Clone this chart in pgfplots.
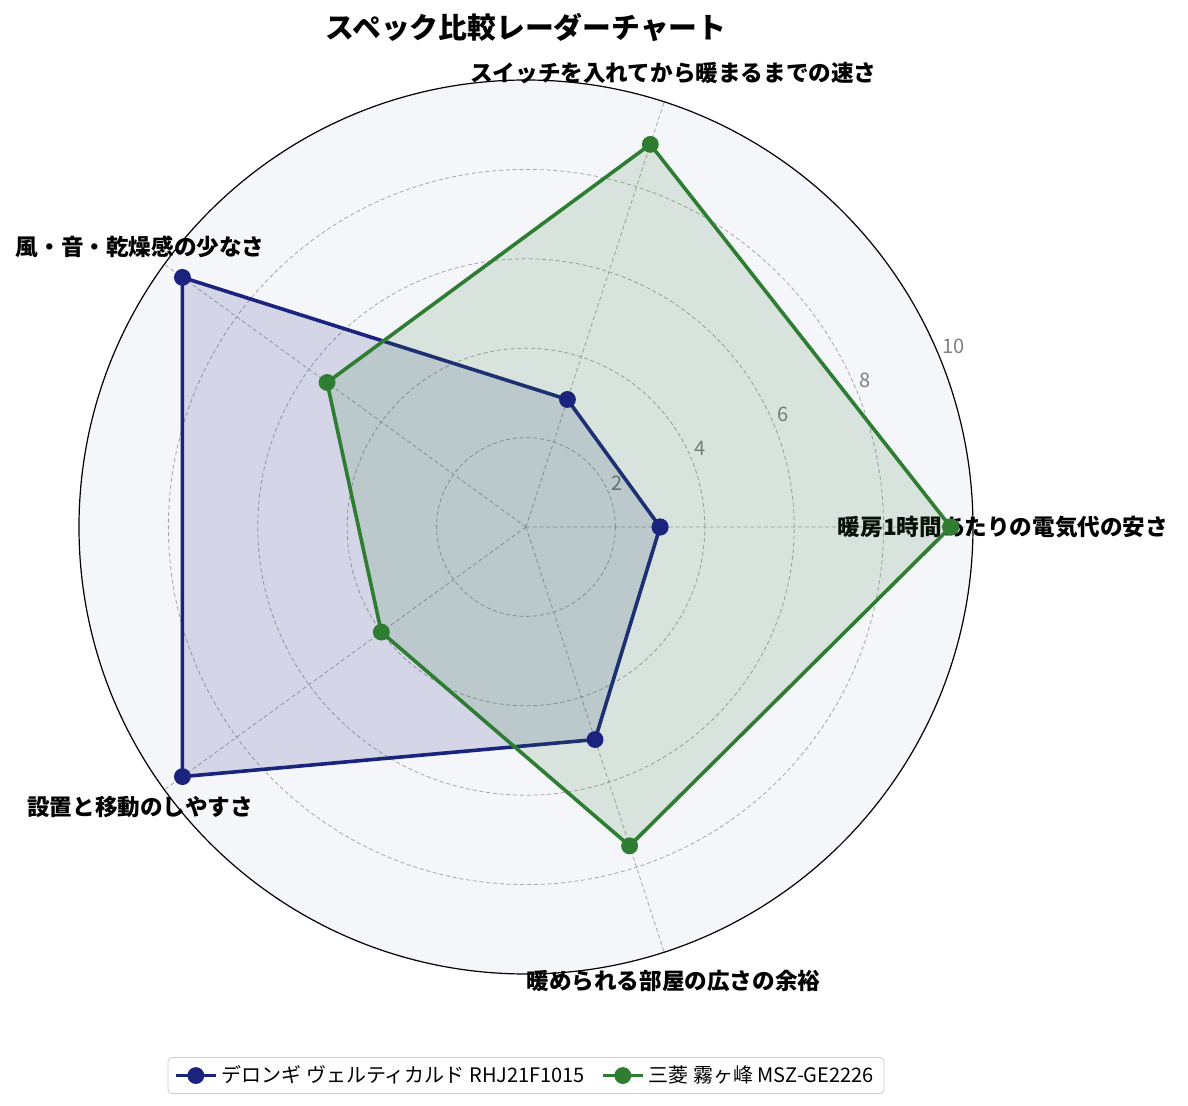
\documentclass[border=0pt]{standalone}
\usepackage{fontspec}
\setmainfont{Noto Sans CJK JP}
\usepackage{pgfplots}
\pgfplotsset{compat=1.18}
\usepgfplotslibrary{polar}

\definecolor{bgcol}{HTML}{F5F6FA}
\definecolor{cdelonghi}{HTML}{1A237E}
\definecolor{cmitsu}{HTML}{2E7D32}

\tikzset{
    lab/.style={font=\bfseries\fontsize{11.3}{13}\selectfont, anchor=center, inner sep=0pt},
    rt/.style={font=\fontsize{10}{12}\selectfont, text=gray, anchor=west, inner sep=0pt, xshift=1.5pt, yshift=5pt},
}

\begin{document}
\begin{tikzpicture}
\path[use as bounding box] (-263pt,-289.5pt) rectangle (331pt,263.5pt);
\begin{polaraxis}[
    at={(0,0)}, anchor=origin,
    width=447pt, height=447pt, scale only axis,
    ymin=0, ymax=10,
    xtick={0,72,144,216,288},
    xticklabels={},
    ytick={2,4,6,8},
    yticklabels={},
    major tick length=0pt,
    grid=major,
    major grid style={gray!70, line width=0.4pt, dash pattern=on 2pt off 1.4pt},
    axis line style={black, line width=0.6pt},
    y axis line style={draw=none},
    axis background/.style={fill=bgcol},
    clip=false,
    legend style={at={(0.5,-0.093)}, anchor=north, legend columns=2,
        draw=gray!40, rounded corners=2pt, font=\fontsize{10}{12}\selectfont,
        /tikz/every even column/.append style={column sep=6pt}},
    legend image code/.code={\draw[#1, mark repeat=2, mark phase=2]
        plot coordinates {(0pt,0pt) (10pt,0pt) (20pt,0pt)};},
]
% category labels
\node[lab] at (axis cs:0,10.67) {暖房1時間あたりの電気代の安さ};
\node[lab] at (axis cs:72,10.67) {スイッチを入れてから暖まるまでの速さ};
\node[lab] at (axis cs:144,10.67) {風・音・乾燥感の少なさ};
\node[lab] at (axis cs:216,10.67) {設置と移動のしやすさ};
\node[lab] at (axis cs:288,10.67) {暖められる部屋の広さの余裕};
% radial tick labels
\node[rt] at (axis cs:22.5,2) {2};
\node[rt] at (axis cs:22.5,4) {4};
\node[rt] at (axis cs:22.5,6) {6};
\node[rt] at (axis cs:22.5,8) {8};
\node[rt] at (axis cs:22.5,10) {10};

\addplot[cdelonghi, line width=1.8pt, fill=cdelonghi, fill opacity=0.15,
    mark=*, mark size=3.3pt, mark options={fill=cdelonghi, fill opacity=1}]
    coordinates {(0,3) (72,3) (144,9.5) (216,9.5) (288,5) (360,3)};
\addlegendentry{デロンギ ヴェルティカルド RHJ21F1015}

\addplot[cmitsu, line width=1.8pt, fill=cmitsu, fill opacity=0.15,
    mark=*, mark size=3.3pt, mark options={fill=cmitsu, fill opacity=1}]
    coordinates {(0,9.5) (72,9) (144,5.5) (216,4) (288,7.5) (360,9.5)};
\addlegendentry{三菱 霧ヶ峰 MSZ-GE2226}

\node[font=\bfseries\fontsize{14.4}{17}\selectfont, anchor=center]
    at (axis description cs:0.5,1) [yshift=26.5pt] {スペック比較レーダーチャート};
\end{polaraxis}
\end{tikzpicture}
\end{document}
